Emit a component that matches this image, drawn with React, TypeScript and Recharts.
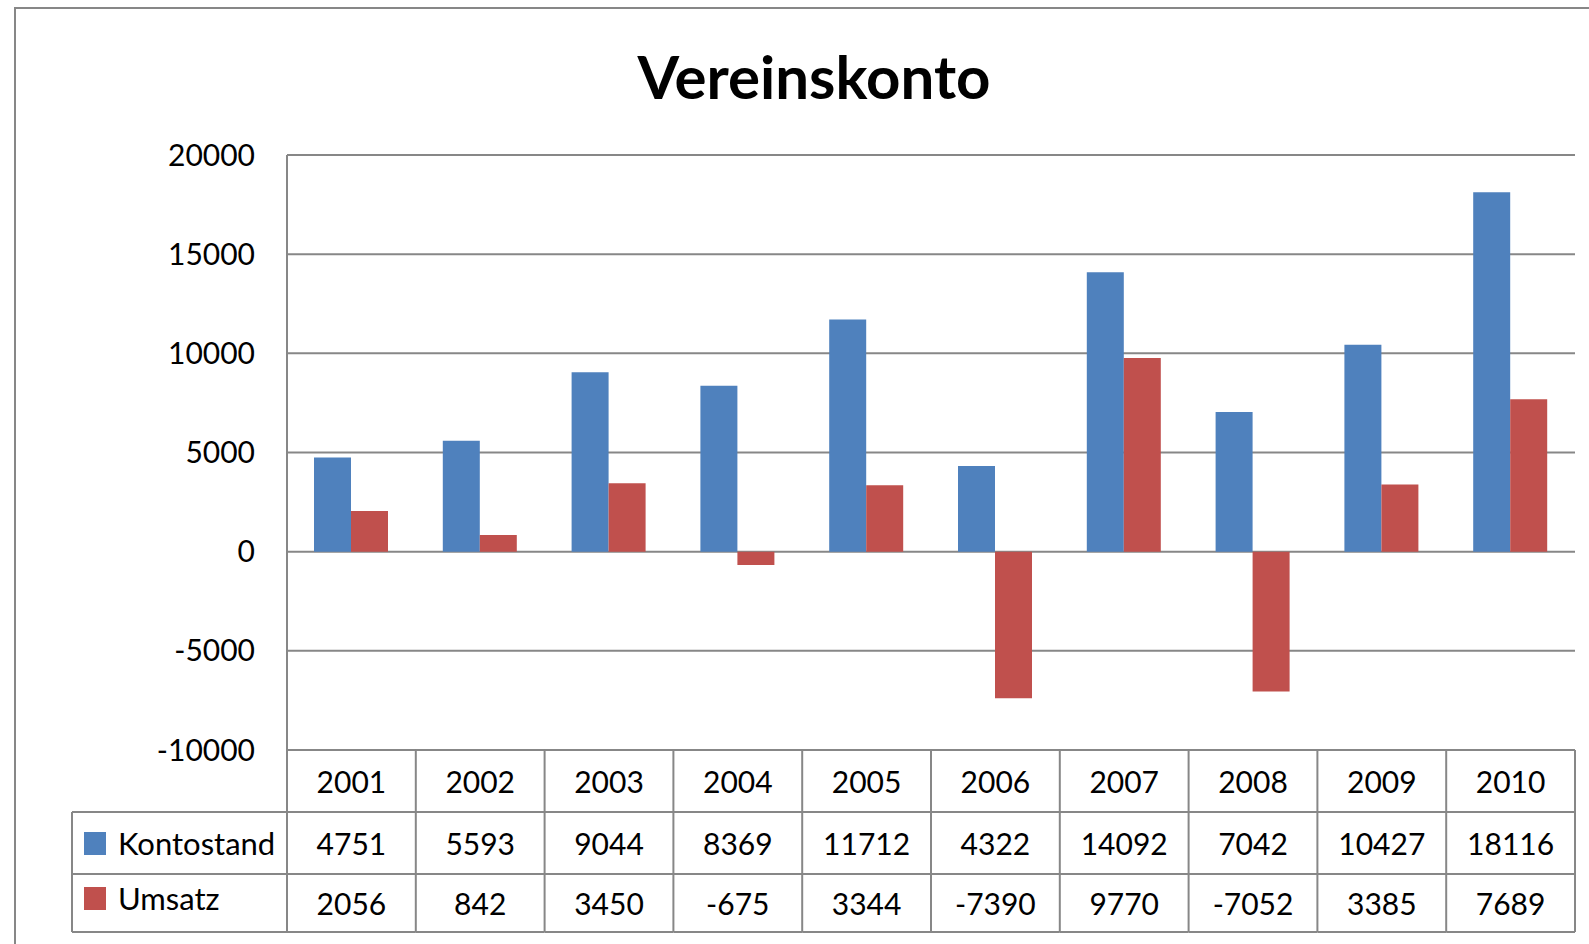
import { Bar, BarChart, CartesianGrid, XAxis, YAxis } from "recharts";

const YEARS = ["2001", "2002", "2003", "2004", "2005", "2006", "2007", "2008", "2009", "2010"];
const KONTOSTAND = [4751, 5593, 9044, 8369, 11712, 4322, 14092, 7042, 10427, 18116];
const UMSATZ = [2056, 842, 3450, -675, 3344, -7390, 9770, -7052, 3385, 7689];
const Y_TICKS = [-10000, -5000, 0, 5000, 10000, 15000, 20000];

const SERIES = [
    { key: "kontostand", name: "Kontostand", color: "#4F81BD", values: KONTOSTAND },
    { key: "umsatz", name: "Umsatz", color: "#C0504D", values: UMSATZ },
];

const W = 1589;
const H = 944;
const PLOT_LEFT = 287;
const PLOT_RIGHT = 1575;
const PLOT_TOP = 155;
const PLOT_BOTTOM = 750;
const ROW_H = [62, 62, 58];
const LEGEND_LEFT = 72;
const LINE = "#878787";
const FONT = "Lato, 'Noto Sans', sans-serif";

const data = YEARS.map((year, i) => ({
    year,
    kontostand: KONTOSTAND[i],
    umsatz: UMSATZ[i],
}));

const band = (PLOT_RIGHT - PLOT_LEFT) / YEARS.length;

function TableTick(props: any) {
    const { x, y, index } = props;
    const left = x - band / 2;
    const right = x + band / 2;
    const r1 = y + ROW_H[0];
    const r2 = r1 + ROW_H[1];
    const r3 = r2 + ROW_H[2];
    const rows = [
        { top: y, h: ROW_H[0], text: YEARS[index] },
        { top: r1, h: ROW_H[1], text: String(KONTOSTAND[index]) },
        { top: r2, h: ROW_H[2], text: String(UMSATZ[index]) },
    ];
    return (
        <g>
            <line x1={left} x2={right} y1={y} y2={y} stroke={LINE} strokeWidth={2} />
            {[r1, r2, r3].map((ly, k) => (
                <line key={k} x1={left} x2={right} y1={ly} y2={ly} stroke={LINE} strokeWidth={2} />
            ))}
            {index === 0 && <line x1={left} x2={left} y1={y} y2={r3} stroke={LINE} strokeWidth={2} />}
            <line x1={right} x2={right} y1={y} y2={r3} stroke={LINE} strokeWidth={2} />
            {rows.map((r, k) => (
                <text
                    key={k}
                    x={x}
                    y={r.top + r.h / 2}
                    textAnchor="middle"
                    dominantBaseline="central"
                    fontFamily={FONT}
                    fontSize={30}
                    fill="#000"
                >
                    {r.text}
                </text>
            ))}
            {index === 0 && (
                <g>
                    {[r1, r2, r3].map((ly, k) => (
                        <line key={k} x1={LEGEND_LEFT} x2={left} y1={ly} y2={ly} stroke={LINE} strokeWidth={2} />
                    ))}
                    <line x1={LEGEND_LEFT} x2={LEGEND_LEFT} y1={r1} y2={r3} stroke={LINE} strokeWidth={2} />
                    {SERIES.map((s, k) => {
                        const cy = k === 0 ? r1 + ROW_H[1] / 2 : r2 + ROW_H[2] / 2 - 5;
                        return (
                            <g key={s.key}>
                                <rect x={LEGEND_LEFT + 12} y={cy - 11} width={22} height={23} fill={s.color} />
                                <text
                                    x={LEGEND_LEFT + 46}
                                    y={cy}
                                    dominantBaseline="central"
                                    fontFamily={FONT}
                                    fontSize={31}
                                    fill="#000"
                                >
                                    {s.name}
                                </text>
                            </g>
                        );
                    })}
                </g>
            )}
        </g>
    );
}

export default function App() {
    const yAxisWidth = 100;
    return (
        <div
            style={{
                position: "fixed",
                left: 0,
                top: 0,
                width: W,
                height: H,
                overflow: "hidden",
                background: "#fff",
            }}
        >
            <div
                style={{
                    position: "absolute",
                    left: 14,
                    top: 7,
                    width: 1700,
                    height: 1100,
                    border: `2px solid ${LINE}`,
                    boxSizing: "border-box",
                }}
            />
            <div
                style={{
                    position: "absolute",
                    left: 514,
                    width: 600,
                    top: 38,
                    textAlign: "center",
                    fontFamily: FONT,
                    fontWeight: 700,
                    fontSize: 60,
                    lineHeight: "76px",
                    color: "#000",
                }}
            >
                Vereinskonto
            </div>
            <div style={{ position: "absolute", left: 0, top: 0 }}>
                <BarChart
                    width={W}
                    height={H}
                    data={data}
                    barGap={0}
                    barSize={37}
                    margin={{ top: PLOT_TOP, right: W - PLOT_RIGHT, bottom: 0, left: PLOT_LEFT - yAxisWidth }}
                >
                    <CartesianGrid vertical={false} stroke={LINE} strokeWidth={2} />
                    <XAxis
                        dataKey="year"
                        height={H - PLOT_BOTTOM}
                        axisLine={false}
                        tickLine={false}
                        tickSize={0}
                        tickMargin={0}
                        interval={0}
                        tick={<TableTick />}
                    />
                    <YAxis
                        width={yAxisWidth}
                        domain={[-10000, 20000]}
                        ticks={Y_TICKS}
                        interval={0}
                        axisLine={{ stroke: LINE, strokeWidth: 2 }}
                        tickLine={false}
                        tickSize={0}
                        tickMargin={32}
                        tick={{ fontFamily: FONT, fontSize: 30, fill: "#000" }}
                    />
                    {SERIES.map((s) => (
                        <Bar key={s.key} dataKey={s.key} name={s.name} fill={s.color} isAnimationActive={false} />
                    ))}
                </BarChart>
            </div>
        </div>
    );
}
